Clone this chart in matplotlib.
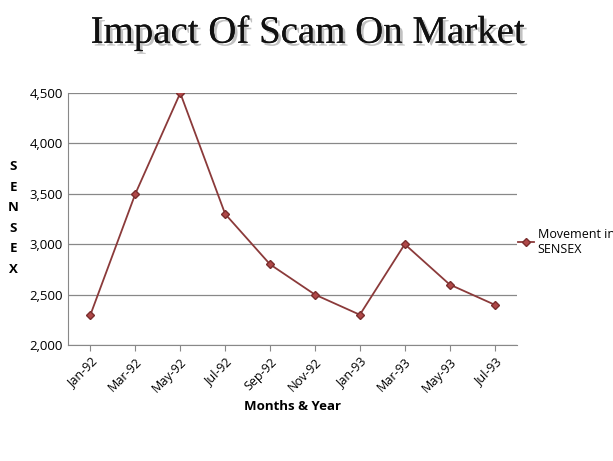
import matplotlib.pyplot as plt
import matplotlib.patheffects as pe

months = ["Jan-92", "Mar-92", "May-92", "Jul-92", "Sep-92",
          "Nov-92", "Jan-93", "Mar-93", "May-93", "Jul-93"]
sensex = [2300, 3500, 4500, 3300, 2800, 2500, 2300, 3000, 2600, 2400]
y_ticks = [2000, 2500, 3000, 3500, 4000, 4500]

fig = plt.figure(figsize=(6.13, 4.61), dpi=100)
ax = fig.add_axes([68 / 613, 1 - 345 / 461, (517 - 68) / 613, (345 - 93) / 461])

x = range(len(months))
ax.plot(x, sensex, color="#8B3A3A", linewidth=1.3, marker="D", markersize=4,
        markerfacecolor="#B04848", markeredgecolor="#7A2E2E",
        label="Movement in\nSENSEX")

ax.set_xlim(-0.5, len(months) - 0.5)
ax.set_ylim(2000, 4500)
ax.set_yticks(y_ticks)
ax.set_yticklabels([f"{v:,}" for v in y_ticks], fontname="Open Sans", fontsize=9.5)
ax.set_xticks(list(x))
ax.set_xticklabels(months, rotation=45, ha="right", rotation_mode="anchor",
                   fontname="Open Sans", fontsize=9)
ax.yaxis.grid(True, color="#888888", linewidth=0.9)
ax.set_axisbelow(True)
for s in ["top", "right"]:
    ax.spines[s].set_visible(False)
for s in ["left", "bottom"]:
    ax.spines[s].set_color("#888888")
ax.tick_params(axis="y", length=0)
ax.tick_params(axis="x", length=4, color="#888888")

ax.set_xlabel("Months & Year", fontname="Open Sans", fontweight="bold", fontsize=9.5)
fig.text(13 / 613, 1 - 218 / 461, "S\nE\nN\nS\nE\nX", ha="center", va="center",
         fontname="Open Sans", fontweight="bold", fontsize=9.5, linespacing=1.75)

ax.legend(loc="center left", bbox_to_anchor=(0.99, 0.41), frameon=False,
          prop={"family": "Open Sans", "size": 9}, handlelength=1.3,
          handletextpad=0.3, borderaxespad=0)

fig.text(0.502, 1 - 33 / 461, "Impact Of Scam On Market", ha="center", va="center",
         fontname="Liberation Serif", fontsize=28, color="#111111",
         path_effects=[pe.withSimplePatchShadow(offset=(2, -2), shadow_rgbFace="#999999", alpha=0.6),
                       pe.Normal()])

fig.savefig("out.png", dpi=100)
